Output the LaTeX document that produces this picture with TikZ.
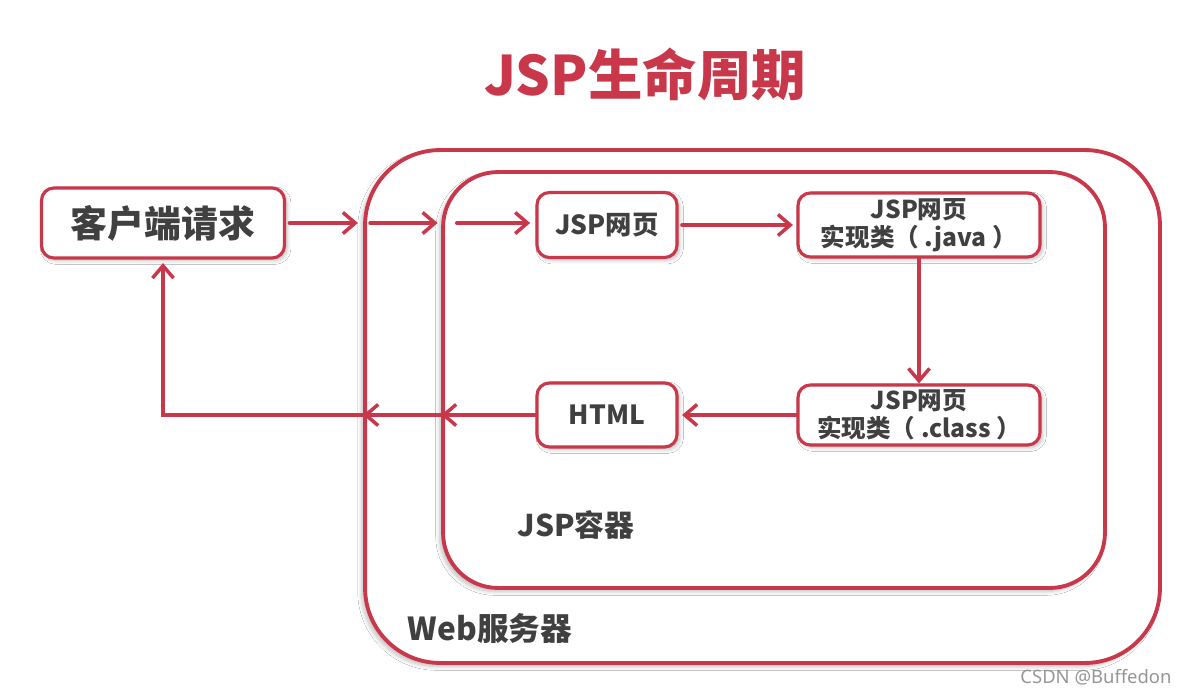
\documentclass[tikz,border=0pt]{standalone}
\usepackage{fontspec}
\setmainfont{Noto Sans CJK SC}
\newfontfamily\markfont{Noto Sans}
\usetikzlibrary{arrows.meta,positioning,shadows.blur}
\definecolor{jspred}{RGB}{201,55,75}
\definecolor{jsptext}{RGB}{64,64,64}
\definecolor{jspgray}{RGB}{150,150,150}

\begin{document}
\begin{tikzpicture}[x=0.02cm, y=-0.02cm, font=\bfseries, text=jsptext,
    stage/.style={rectangle, rounded corners=7pt, draw=jspred, line width=1.8pt, fill=white, align=center, inner sep=0pt, text=jsptext,
      blur shadow={shadow xshift=1.5pt, shadow yshift=-1.5pt, shadow blur steps=6, shadow opacity=25}},
    frame/.style={rectangle, draw=jspred, line width=2.2pt, inner sep=0pt,
      blur shadow={shadow xshift=-2pt, shadow yshift=-2pt, shadow blur steps=8, shadow opacity=25}},
    tag/.style={text=jsptext},
    flow/.style={-{Straight Barb[length=7pt, width=12pt, line width=2pt]}, draw=jspred, line width=2.2pt, line cap=round}]
  \useasboundingbox (0,0) rectangle (1182,693);
  \fill[white] (0,0) rectangle (1182,693);

  \node[font=\fontsize{31}{31}\bfseries, text=jspred] (title) at (645,74) {JSP生命周期};

  % servers
  \node[frame, fill=white, rounded corners=1.5cm, minimum width=15.9cm, minimum height=10.26cm] (web) at (762.5,406.5) {};
  \node[frame, fill=white, rounded corners=1.1cm, minimum width=13.24cm, minimum height=8.32cm] (cont) at (774,380) {};
  \node[tag, font=\fontsize{17}{17}\bfseries] (contlabel) at (576,525) {JSP容器};
  \node[tag, font=\fontsize{18}{18}\bfseries] (weblabel) at (490,628) {Web服务器};

  % stages
  \node[stage, minimum width=4.86cm, minimum height=1.4cm, font=\fontsize{21}{21}\bfseries] (client) at (163,223) {客户端请求};
  \node[stage, minimum width=2.8cm, minimum height=1.3cm, font=\fontsize{15}{15}\bfseries] (page) at (607,225) {JSP网页};
  \node[stage, minimum width=4.84cm, minimum height=1.28cm, font=\fontsize{14}{16}\bfseries] (java) at (919,225) {JSP网页\\实现类（ .java ）};
  \node[stage, minimum width=4.84cm, minimum height=1.2cm, font=\fontsize{14}{16}\bfseries] (cls) at (919,415) {JSP网页\\实现类（ .class ）};
  \node[stage, minimum width=2.8cm, minimum height=1.28cm, font=\fontsize{15}{15}\bfseries] (html) at (607,415) {HTML};

  % request
  \draw[flow] ([xshift=2pt]client.east) -- ([xshift=-3pt]client.east -| web.west);
  \draw[flow] ([xshift=4pt]client.east -| web.west) -- ([xshift=-2pt]client.east -| cont.west);
  \draw[flow] ([xshift=9pt]client.east -| cont.west) -- ([xshift=-3pt]page.west |- client.east);
  \draw[flow] ([xshift=2pt]page.east) -- ([xshift=-2pt]java.west);
  \draw[flow] (java.south) -- (cls.north);
  % response
  \draw[flow] (cls.west) -- ([xshift=2pt]html.east);
  \draw[flow] (html.west) -- (html.west -| cont.west);
  \draw[flow] (html.west -| cont.west) -- (html.west -| web.west);
  \draw[flow] (html.west -| web.west) -| ([yshift=-2pt]client.south);

  \node[font=\markfont\fontsize{10.5}{10.5}\selectfont, text=jspgray] (mark) at (1096,677) {CSDN @Buffedon};
\end{tikzpicture}
\end{document}
